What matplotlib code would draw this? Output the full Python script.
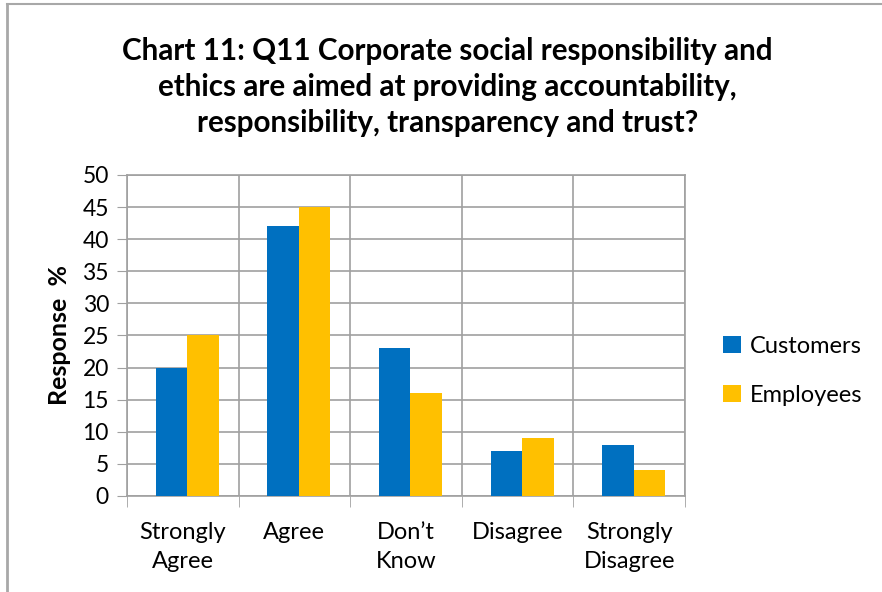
import matplotlib.pyplot as plt
import numpy as np
from matplotlib.lines import Line2D

plt.rcParams['font.family'] = ['Lato', 'DejaVu Sans']

categories = ["Strongly\nAgree", "Agree", "Don\u2019t\nKnow", "Disagree", "Strongly\nDisagree"]
customers = [20, 42, 23, 7, 8]
employees = [25, 45, 16, 9, 4]

fig = plt.figure(figsize=(8.82, 5.92), dpi=100)
ax = fig.add_axes([0.144, 0.1622, 0.6326, 0.5422])

x = np.arange(len(categories))
w = 0.282
shift = 0.04
ax.bar(x + shift - w / 2, customers, w, color="#0070C0", label="Customers", zorder=3)
ax.bar(x + shift + w / 2, employees, w, color="#FFC000", label="Employees", zorder=3)

ax.set_xlim(-0.5, len(categories) - 0.5)
ax.set_ylim(0, 50)
ax.set_yticks(range(0, 51, 5))
ax.set_xticks(x)
ax.set_xticklabels(categories, fontsize=17, linespacing=1.45)
ax.tick_params(axis="y", labelsize=16.5, length=7, color="#A0A0A0", pad=6)
ax.tick_params(axis="x", length=0, pad=19)

# vertical lines between categories, with tick marks below
ax.set_xticks(np.arange(-0.5, len(categories)), minor=True)
ax.tick_params(axis="x", which="minor", length=8, color="#A0A0A0")
ax.grid(axis="y", color="#A0A0A0", linewidth=1.2, zorder=0)
ax.grid(axis="x", which="minor", color="#A0A0A0", linewidth=1.2, zorder=0)
for s in ax.spines.values():
    s.set_color("#A0A0A0")
    s.set_linewidth(1.2)

ax.set_ylabel("Response  %", fontsize=18, fontweight="bold", labelpad=8)

fig.text(0.507, 0.853,
         "Chart 11: Q11 Corporate social responsibility and\n"
         "ethics are aimed at providing accountability,\n"
         "responsibility, transparency and trust?",
         ha="center", va="center", fontsize=21.3, fontweight="bold", linespacing=1.35)

ax.legend(loc="center left", bbox_to_anchor=(1.03, 0.39), frameon=False,
          fontsize=17, handlelength=0.75, handleheight=0.75, labelspacing=1.2,
          handletextpad=0.4)

fig.add_artist(Line2D([0.0075, 0.0075], [0, 0.993], color="#A8A8A8", lw=2))
fig.add_artist(Line2D([0.0075, 1], [0.993, 0.993], color="#A8A8A8", lw=1.5))

fig.savefig("out.png", dpi=100)
